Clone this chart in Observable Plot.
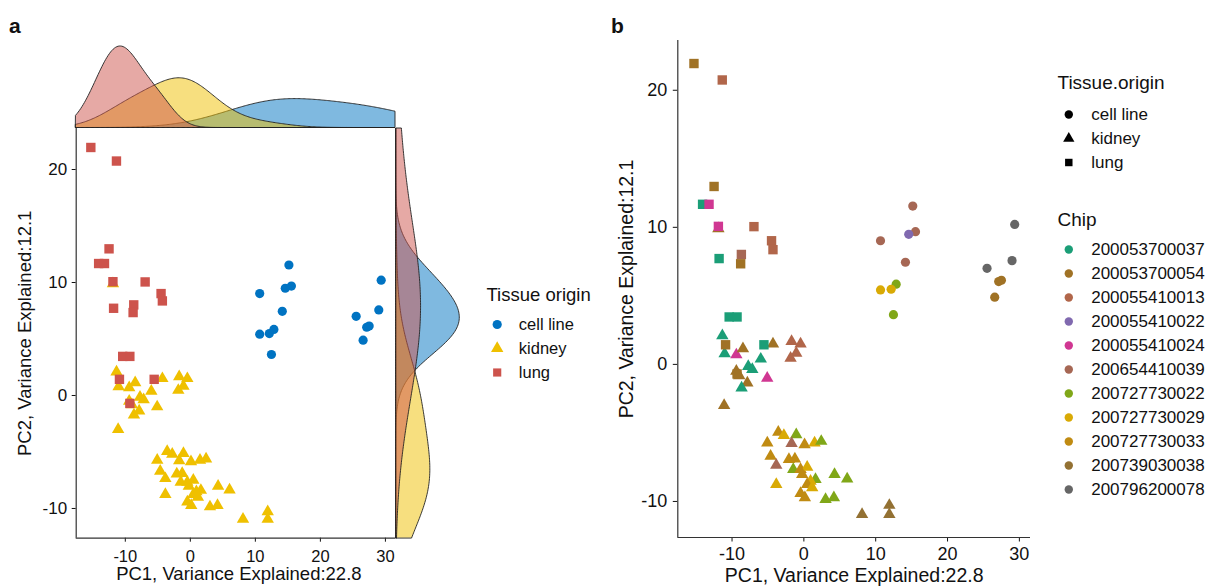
<!DOCTYPE html>
<html>
<head>
<meta charset="utf-8">
<script src="https://cdn.jsdelivr.net/npm/d3@7"></script>
<script src="https://cdn.jsdelivr.net/npm/@observablehq/plot@0.6"></script>
<style>
  html, body { margin: 0; padding: 0; background: #fff; }
  #chart { position: relative; width: 1211px; height: 587px; overflow: hidden; background: #fff;
           font-family: "Liberation Sans", Arial, Helvetica, sans-serif; color: #111; }
  .panel-label { position: absolute; font-weight: bold; font-size: 21px; line-height: 1; }
</style>
</head>
<body>
<div id="chart">
  <div class="panel-label" style="left:9px; top:15px;">a</div>
  <div class="panel-label" style="left:611px; top:15px;">b</div>
</div>
<script>
// ---------------- data ----------------
const tissues = ["cell line", "kidney", "lung"];
const tissueColors = ["#0073C2", "#EFC000", "#CD534C"];
const tissueSymbols = ["circle", "triangle", "square"];

const chips = ["200053700037", "200053700054", "200055410013", "200055410022", "200055410024",
               "200654410039", "200727730022", "200727730029", "200727730033", "200739030038", "200796200078"];
const chipColors = ["#1B9E77", "#A07225", "#B1664A", "#8069AF", "#D03792", "#A66754",
                    "#80A718", "#D9AA05", "#C08B12", "#937133", "#666666"];

const xTicks = [-10, 0, 10, 20, 30];
const yTicks = [-10, 0, 10, 20];
const xTitle = "PC1, Variance Explained:22.8";
const yTitle = "PC2, Variance Explained:12.1";

// cell line samples
const cellX = [10.67, 15.16, 15.54, 14.6, 14.14, 12.85, 10.67, 12.15, 12.47, 25.5, 29.35, 28.98, 27.12, 27.5, 26.57];
const cellY = [9.02, 11.55, 9.68, 9.49, 7.45, 5.85, 5.43, 5.48, 3.63, 7.01, 10.21, 7.57, 6.04, 6.14, 4.9];
const cellChip = [5, 5, 5, 3, 5, 6, 7, 7, 6, 10, 10, 10, 1, 1, 1];

// kidney samples
const kidneyX = [-11.35, -11.03, -9.4, -8.48, -4.3, -1.71, -0.46, -1.06, -1.85, -7.74, -7.18, -6.0, -5.1, -9.4, -9.0, -7.87, -8.67, -11.1, -11.9,
                 -3.56, -2.78, -1.06, -5.09, -1.71, 0.1, 1.49, 2.42, -4.63, -3.84, -2.08, -1.25, -1.48, -0.46, 0.46, -0.23,
                 1.62, 0.93, -3.84, 0.46, -0.46, 1.16, 0.14, 4.27, 6.03, 3.02, 4.18, 8.1, 11.9, 11.9];
const kidneyY = [2.09, 0.78, 0.7, 1.14, 1.5, 1.67, 1.5, 0.82, 0.46, -0.15, -0.36, 0.39, -1.0, -0.5, -0.82, -1.36, -1.72, -3.0, 9.9,
                 -4.95, -5.19, -5.12, -5.73, -5.77, -5.85, -5.73, -5.61, -6.7, -7.35, -6.94, -6.89, -7.67, -7.67, -7.5, -8.03,
                 -8.39, -8.52, -8.76, -8.76, -9.41, -9.0, -9.73, -8.03, -8.35, -9.85, -9.73, -10.95, -10.28, -10.95];
const kidneyChip = [0, 0, 4, 1, 1, 2, 2, 2, 2, 0, 0, 0, 4, 1, 1, 1, 0, 1, 1,
                    8, 7, 6, 8, 5, 8, 7, 6, 8, 5, 8, 8, 6, 8, 7, 8,
                    6, 7, 7, 8, 8, 7, 8, 6, 6, 6, 6, 9, 9, 9];

// lung samples
const lungX = [-15.3, -11.36, -12.5, -14.1, -13.2, -11.9, -6.95, -4.5, -4.3, -8.7, -8.8, -11.8, -10.4, -9.3, -10.9, -5.56, -9.3];
const lungY = [21.95, 20.75, 12.98, 11.68, 11.68, 10.07, 10.05, 9.02, 8.37, 8.02, 7.34, 7.72, 3.46, 3.46, 1.43, 1.43, -0.7];
const lungChip = [1, 2, 1, 0, 4, 4, 2, 2, 2, 5, 1, 0, 0, 0, 1, 0, 1];

// ---------------- build table ----------------
function toRows(tissue, xs, ys, cs) {
  return xs.map((x, i) => ({tissue, x, y: ys[i], chip: chips[cs[i]]}));
}
const rows = [
  ...toRows("cell line", cellX, cellY, cellChip),
  ...toRows("kidney", kidneyX, kidneyY, kidneyChip),
  ...toRows("lung", lungX, lungY, lungChip)
];

const xDom = [-17.55, 31.55];
const yDom = [-12.63, 23.63];
const FONT = '"Liberation Sans", Arial, Helvetica, sans-serif';
const baseStyle = {fontFamily: FONT, fontSize: "17px", color: "#111", background: "none", overflow: "visible"};

// Gaussian KDE (R bw.nrd0 bandwidth, with an adjust factor)
const ADJUST = 2;
function kde(values, lo, hi, n = 256) {
  const m = values.length;
  const sd = d3.deviation(values);
  const iqr = d3.quantile(values, 0.75) - d3.quantile(values, 0.25);
  const bw = ADJUST * 0.9 * Math.min(sd, iqr / 1.34) * Math.pow(m, -0.2);
  const out = [];
  for (let i = 0; i <= n; i++) {
    const t = lo + (hi - lo) * i / n;
    const d = d3.sum(values, v => Math.exp(-0.5 * ((t - v) / bw) ** 2)) / (m * bw * Math.sqrt(2 * Math.PI));
    out.push({t, d});
  }
  return out;
}
const topDens = tissues.flatMap(t => kde(rows.filter(r => r.tissue === t).map(r => r.x), xDom[0], xDom[1]).map(p => ({tissue: t, ...p})));
const rightDens = tissues.flatMap(t => kde(rows.filter(r => r.tissue === t).map(r => r.y), yDom[0], yDom[1]).map(p => ({tissue: t, ...p})));

const chart = document.getElementById("chart");
function place(node, left, top) {
  node.style.position = "absolute";
  node.style.left = left + "px";
  node.style.top = top + "px";
  chart.appendChild(node);
}

const tissueColor = {domain: tissues, range: tissueColors};
const tissueSymbol = {domain: tissues, range: tissueSymbols};
const sizes = {"cell line": 4.6, "kidney": 4.6, "lung": 5.3};

function scatterDots(fillField) {
  return tissues.map(t => Plot.dot(rows, {
    filter: d => d.tissue === t, x: "x", y: "y", fill: fillField, symbol: "tissue", r: sizes[t]
  }));
}

// ---------------- panel a: main scatter ----------------
place(Plot.plot({
  width: 400, height: 467,
  marginLeft: 75.7, marginRight: 5, marginTop: 8, marginBottom: 49.3,
  style: baseStyle,
  x: {domain: xDom, axis: null},
  y: {domain: yDom, axis: null},
  color: tissueColor,
  symbol: tissueSymbol,
  marks: [
    Plot.axisX(xTicks, {anchor: "bottom", tickSize: 4, tickPadding: 8, fontSize: 16.5, tickFormat: d => String(d), label: null}),
    Plot.axisY(yTicks, {anchor: "left", tickSize: 4, tickPadding: 5, fontSize: 17, tickFormat: d => String(d), label: null}),
    Plot.ruleX([xDom[0]], {stroke: "#333", strokeWidth: 1.2}),
    Plot.ruleY([yDom[0]], {stroke: "#333", strokeWidth: 1.2}),
    ...scatterDots("tissue"),
    Plot.text([xTitle], {frameAnchor: "bottom", dy: 42, dx: 3, textAnchor: "middle", lineAnchor: "bottom", fontSize: 18.5, text: d => d}),
    Plot.text([yTitle], {frameAnchor: "left", dx: -50.7, rotate: -90, textAnchor: "middle", lineAnchor: "middle", fontSize: 18.5, text: d => d})
  ]
}), 0, 120);

// ---------------- panel a: top marginal density ----------------
place(Plot.plot({
  width: 400, height: 128,
  marginLeft: 75.7, marginRight: 5, marginTop: 46, marginBottom: 0.5,
  style: baseStyle,
  x: {domain: xDom, axis: null},
  y: {domain: [0, d3.max(topDens, d => d.d)], axis: null},
  color: tissueColor,
  marks: [
    Plot.areaY(topDens, {x: "t", y1: 0, y2: "d", z: "tissue", fill: "tissue", fillOpacity: 0.5, stroke: "#222", strokeWidth: 0.9})
  ]
}), 0, 0);

// ---------------- panel a: right marginal density ----------------
place(Plot.plot({
  width: 80, height: 430,
  marginLeft: 0.7, marginRight: 15.7, marginTop: 8, marginBottom: 12.3,
  style: baseStyle,
  x: {domain: [0, d3.max(rightDens, d => d.d)], axis: null},
  y: {domain: yDom, axis: null},
  color: tissueColor,
  marks: [
    Plot.areaX(rightDens, {y: "t", x1: 0, x2: "d", z: "tissue", fill: "tissue", fillOpacity: 0.5, stroke: "#222", strokeWidth: 0.9})
  ]
}), 395, 120);

// ---------------- panel a: legend ----------------
place(Plot.plot({
  width: 130, height: 110, margin: 0,
  style: baseStyle,
  y: {type: "point", domain: tissues, range: [43.3, 92.3], padding: 0, axis: null},
  color: tissueColor,
  symbol: tissueSymbol,
  marks: [
    Plot.text(["Tissue origin"], {frameAnchor: "top-left", dx: 6, dy: 20, textAnchor: "start", lineAnchor: "bottom", fontSize: 18.5, text: d => d}),
    Plot.dot(tissues, {y: d => d, fill: d => d, symbol: d => d, r: 4.6, frameAnchor: "left", dx: 16.7}),
    Plot.text(tissues, {y: d => d, text: d => d, frameAnchor: "left", dx: 38.3, textAnchor: "start", lineAnchor: "middle", fontSize: 16.5})
  ]
}), 480, 280);

// ---------------- panel b: scatter by chip ----------------
place(Plot.plot({
  width: 440, height: 587,
  marginLeft: 77.3, marginRight: 10, marginTop: 40, marginBottom: 50,
  style: baseStyle,
  x: {domain: xDom, axis: null},
  y: {domain: yDom, axis: null},
  color: {domain: chips, range: chipColors},
  symbol: tissueSymbol,
  marks: [
    Plot.axisX(xTicks, {anchor: "bottom", tickSize: 4.5, tickPadding: 5, fontSize: 18, tickFormat: d => String(d), label: null}),
    Plot.axisY(yTicks, {anchor: "left", tickSize: 4.5, tickPadding: 6, fontSize: 18, tickFormat: d => String(d), label: null}),
    Plot.ruleX([xDom[0]], {stroke: "#333", strokeWidth: 1.2}),
    Plot.ruleY([yDom[0]], {stroke: "#333", strokeWidth: 1.2}),
    ...scatterDots("chip"),
    Plot.text([xTitle], {frameAnchor: "bottom", dy: 44, textAnchor: "middle", lineAnchor: "bottom", fontSize: 19.5, text: d => d}),
    Plot.text([yTitle], {frameAnchor: "left", dx: -51.3, rotate: -90, textAnchor: "middle", lineAnchor: "middle", fontSize: 19.5, text: d => d})
  ]
}), 600, 0);

// ---------------- panel b: legends ----------------
place(Plot.plot({
  width: 171, height: 120, margin: 0,
  style: baseStyle,
  y: {type: "point", domain: tissues, range: [53.3, 101.7], padding: 0, axis: null},
  symbol: tissueSymbol,
  marks: [
    Plot.text(["Tissue.origin"], {frameAnchor: "top-left", dx: 17, dy: 28.3, textAnchor: "start", lineAnchor: "bottom", fontSize: 19, text: d => d}),
    Plot.dot(tissues, {y: d => d, symbol: d => d, fill: "#000", r: 4.2, frameAnchor: "left", dx: 28.3}),
    Plot.text(tissues, {y: d => d, text: d => d, frameAnchor: "left", dx: 50.7, textAnchor: "start", lineAnchor: "middle", fontSize: 17})
  ]
}), 1040, 60);

place(Plot.plot({
  width: 171, height: 300, margin: 0,
  style: baseStyle,
  y: {type: "point", domain: chips, range: [47.7, 290], padding: 0, axis: null},
  color: {domain: chips, range: chipColors},
  marks: [
    Plot.text(["Chip"], {frameAnchor: "top-left", dx: 17, dy: 25.7, textAnchor: "start", lineAnchor: "bottom", fontSize: 19, text: d => d}),
    Plot.dot(chips, {y: d => d, fill: d => d, r: 4.2, frameAnchor: "left", dx: 28.3}),
    Plot.text(chips, {y: d => d, text: d => d, frameAnchor: "left", dx: 50.7, textAnchor: "start", lineAnchor: "middle", fontSize: 17})
  ]
}), 1040, 200);
</script>
</body>
</html>
